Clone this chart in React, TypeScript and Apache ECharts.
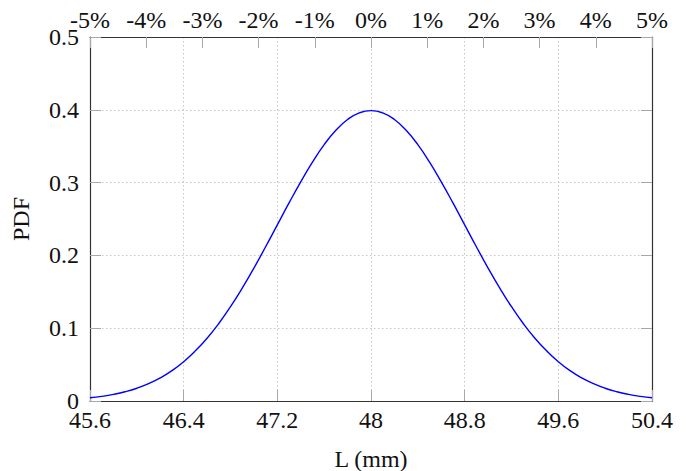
import React, { useEffect, useRef } from "react";
import * as echarts from "echarts";

const lengths = [
  45.6, 45.7, 45.8, 45.9, 46.0, 46.1, 46.2, 46.3, 46.4, 46.5, 46.6, 46.7, 46.8,
  46.9, 47.0, 47.1, 47.2, 47.3, 47.4, 47.5, 47.6, 47.7, 47.8, 47.9, 48.0, 48.1,
  48.2, 48.3, 48.4, 48.5, 48.6, 48.7, 48.8, 48.9, 49.0, 49.1, 49.2, 49.3, 49.4,
  49.5, 49.6, 49.7, 49.8, 49.9, 50.0, 50.1, 50.2, 50.3, 50.4,
];
const pdfValues = [
  0.0044, 0.0064, 0.0091, 0.0127, 0.0175, 0.0238, 0.0317, 0.0417, 0.054, 0.0689,
  0.0863, 0.1065, 0.1295, 0.155, 0.1826, 0.2119, 0.242, 0.2721, 0.3011, 0.328,
  0.3521, 0.3719, 0.3867, 0.3958, 0.3989, 0.3958, 0.3867, 0.3719, 0.3521, 0.328,
  0.3011, 0.2721, 0.242, 0.2119, 0.1826, 0.155, 0.1295, 0.1065, 0.0863, 0.0689,
  0.054, 0.0417, 0.0317, 0.0238, 0.0175, 0.0127, 0.0091, 0.0064, 0.0044,
];
const bottomTicks = { min: 45.6, max: 50.4, interval: 0.8 };
const topTicks = { min: -5, max: 5, interval: 1 };
const yTicks = { min: 0, max: 0.5, interval: 0.1 };

const FONT = "Liberation Serif";
const FS = 24;
const FRAME = "#333333";
const TICK = "#a8a8a8";

export default function App() {
  const ref = useRef<HTMLDivElement>(null);
  useEffect(() => {
    if (!ref.current) return;
    const chart = echarts.init(ref.current, undefined, { renderer: "svg" });
    const label = { fontFamily: FONT, fontSize: FS, color: "#111" };
    chart.setOption({
      animation: false,
      grid: {
        left: 90,
        right: 34,
        top: 37,
        bottom: 70,
        containLabel: false,
        outerBoundsMode: "none",
      },
      xAxis: [
        {
          type: "value",
          position: "bottom",
          ...bottomTicks,
          name: "L (mm)",
          nameLocation: "middle",
          nameGap: 46,
          nameTextStyle: { fontFamily: FONT, fontSize: FS, color: "#111" },
          axisLine: { show: true, onZero: false, lineStyle: { color: FRAME, width: 1.2 } },
          axisTick: { show: true, inside: true, length: 11, lineStyle: { color: TICK, width: 1 } },
          axisLabel: {
            ...label,
            margin: 7,
            formatter: (v: number) => String(Number(v.toFixed(1))),
          },
          splitLine: { show: true, lineStyle: { color: "#c8c8c8", type: [1.5, 2.5], width: 1 } },
        },
        {
          type: "value",
          position: "top",
          ...topTicks,
          axisLine: { show: true, onZero: false, lineStyle: { color: FRAME, width: 1.2 } },
          axisTick: { show: true, inside: true, length: 11, lineStyle: { color: TICK, width: 1 } },
          axisLabel: { ...label, margin: 5, formatter: (v: number) => `${v}%` },
          splitLine: { show: false },
        },
      ],
      yAxis: [
        {
          type: "value",
          position: "left",
          ...yTicks,
          name: "PDF",
          nameLocation: "middle",
          nameGap: 57,
          nameTextStyle: { fontFamily: FONT, fontSize: FS, color: "#111" },
          axisLine: { show: true, onZero: false, lineStyle: { color: FRAME, width: 1.2 } },
          axisTick: { show: true, inside: true, length: 11, lineStyle: { color: TICK, width: 1 } },
          axisLabel: {
            ...label,
            margin: 11,
            formatter: (v: number) => String(Number(v.toFixed(1))),
          },
          splitLine: { show: true, lineStyle: { color: "#c8c8c8", type: [1.5, 2.5], width: 1 } },
        },
        {
          type: "value",
          position: "right",
          ...yTicks,
          axisLine: { show: true, onZero: false, lineStyle: { color: FRAME, width: 1.2 } },
          axisTick: { show: true, inside: true, length: 11, lineStyle: { color: TICK, width: 1 } },
          axisLabel: { show: false },
          splitLine: { show: false },
        },
      ],
      series: [
        {
          type: "line",
          xAxisIndex: 0,
          yAxisIndex: 0,
          data: lengths.map((x, i) => [x, pdfValues[i]]),
          smooth: true,
          showSymbol: false,
          lineStyle: { color: "#0000ff", width: 1.4 },
        },
      ],
    });
    return () => chart.dispose();
  }, []);
  return <div ref={ref} style={{ width: 686, height: 471, position: "absolute", left: 0, top: 0 }} />;
}
